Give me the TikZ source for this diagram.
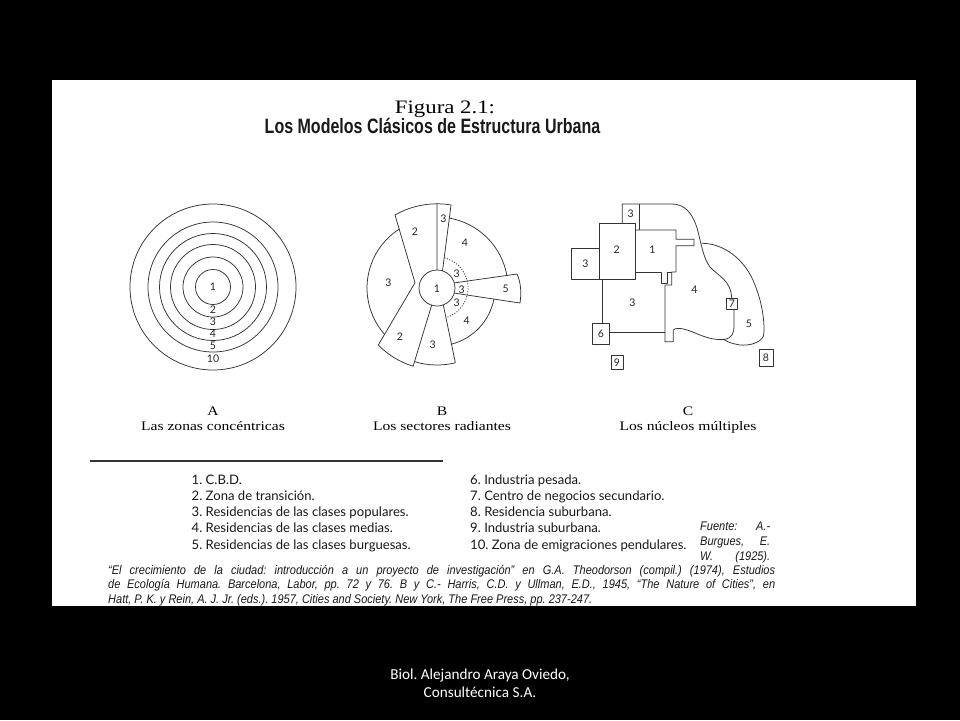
\documentclass[tikz,border=0pt]{standalone}
\usepackage{fontspec}
\setmainfont{Liberation Serif}
\newfontfamily\figfont[FakeStretch=1.2]{Liberation Serif}
\newfontfamily\titlefont[FakeStretch=0.77]{Liberation Sans}
\newfontfamily\legfont{Lato}
\newfontfamily\citefont[FakeStretch=0.88]{Liberation Sans}
\newfontfamily\footfont{Carlito}
\newfontfamily\numfont{Lato}
\frenchspacing
\begin{document}
\begin{tikzpicture}[x=1pt,y=1pt,yscale=-1,line join=round,
  zone/.style={draw=black!80,line width=0.75pt},
  num/.style={font=\numfont\fontsize{10.5}{11}\selectfont,inner sep=0pt,text=black!85},
  captxt/.style={font=\figfont\fontsize{13}{13}\selectfont,inner sep=0pt,anchor=base},
  legtxt/.style={font=\legfont\fontsize{13.1}{14}\selectfont,inner sep=0pt,anchor=base west,text=black!90},
  citetxt/.style={font=\citefont\itshape\fontsize{12.5}{13}\selectfont,inner sep=0pt,anchor=base west,text=black!90},
  foottxt/.style={font=\footfont\fontsize{15.2}{16}\selectfont,inner sep=0pt,anchor=base,text=white}]
\useasboundingbox (0,0) rectangle (960,720);
\fill[black] (0,0) rectangle (960,720);
\fill[white] (52,80) rectangle (916,606);

% ---- titles
\node[inner sep=0pt,anchor=base,font=\figfont\fontsize{19}{19}\selectfont] (fig) at (445,113.3) {Figura 2.1:};
\node[inner sep=0pt,anchor=base,font=\titlefont\bfseries\fontsize{20.8}{21}\selectfont,text=black!90] (title) at (432.5,133.8) {Los Modelos Clásicos de Estructura Urbana};

% ---- A: concentric zones
\foreach \r in {17.5,30,42.5,53.5,65,83} \draw[zone] (213,287) circle[radius=\r];
\node[num] (a1) at (213,287) {1};
\node[num] (a2) at (213,310) {2};
\node[num] (a3) at (213,322) {3};
\node[num] (a4) at (213,334) {4};
\node[num] (a5) at (213,345.5) {5};
\node[num] (a10) at (213,359) {10};

% ---- B: radiating sectors
\begin{scope}[shift={(437,288)},yscale=-1]
  \draw[zone] (122.7:70) arc[start angle=122.7,end angle=221.5,radius=70];
  \draw[zone] (-22,5.3) -- (-42,73) arc[start angle=119.9,end angle=90,radius=84.2] -- (0,18);
  \draw[zone] (0,84.2) arc[start angle=90,end angle=80.4,radius=84.2] -- (5.5,17.2);
  \draw[zone] (80:71) arc[start angle=80,end angle=10,radius=71];
  \draw[zone] (17.3,5.1) -- (80,14) .. controls (84,5) and (84.5,-5) .. (83,-15) -- (17.3,-5.1);
  \draw[zone] (-11:58) arc[start angle=-11,end angle=-75.5,radius=58];
  \draw[zone] (-5.3,-17) -- (253.03:77) arc[start angle=253.03,end angle=283.8,radius=77] -- (6.3,-17);
  \draw[zone] (-22,5.3) -- (224.16:81.8) arc[start angle=224.16,end angle=253.04,radius=81.8] -- (253.03:77);
  \draw[zone] (0,0) circle[radius=18];
  \draw[draw=black!80,line width=0.85pt,dash pattern=on 1pt off 1.6pt] (76:31) arc[start angle=76,end angle=-73,radius=31];
\end{scope}
\node[num] (b1) at (437,288.5) {1};
\node[num] (b2t) at (415,231.7) {2};
\node[num] (b3t) at (443.3,218.3) {3};
\node[num] (b4t) at (465,242.7) {4};
\node[num] (b3l) at (388.3,282.7) {3};
\node[num] (b5) at (505.7,288.3) {5};
\node[num] (b4b) at (466.7,320.7) {4};
\node[num] (b2b) at (400,336.7) {2};
\node[num] (b3b) at (432.7,345) {3};
\node[num] (b3i1) at (456.7,273.3) {3};
\node[num] (b3i2) at (461.7,289.3) {3};
\node[num] (b3i3) at (456.7,302.7) {3};

% ---- C: multiple nuclei
\draw[zone] (622.3,223.3) -- (622.3,204) -- (671.7,204)
  .. controls (684,204) and (692,212) .. (697,228)
  .. controls (701,242) and (703,258) .. (710,267)
  .. controls (718,276) and (731,280) .. (731.7,298.3);
\draw[zone] (639.3,204) -- (639.3,230);
\draw[zone] (599.3,223.3) rectangle (635,279.5);
\draw[zone] (571.7,248.3) rectangle (599.3,279.5);
\draw[zone] (635,230) -- (676,230) -- (676,239.3) -- (694,239.3) -- (694,245.7) -- (676,245.7) -- (676,272) -- (671.7,272) -- (671.7,285) -- (665,285) -- (665,341.7) -- (673.3,341.7) -- (673.3,330)
  .. controls (678,326) and (688,330) .. (700,335)
  .. controls (710,339) and (718,340) .. (724,339.5)
  .. controls (732,338) and (734,334) .. (734,325) -- (734,309);
\draw[zone] (635,272) -- (661.7,272) -- (661.7,283.5) -- (667,283.5) -- (667,272) -- (671.7,272);
\draw[zone] (726,298.3) rectangle (737.7,309);
\draw[zone] (701.7,243.3) .. controls (722,243) and (745,258) .. (755,285)
  .. controls (763,305) and (765,325) .. (763.5,336)
  .. controls (760,344) and (745,347) .. (735,344)
  .. controls (730,343) and (726,341) .. (724,339.5);
\draw[zone] (602.7,279.5) -- (602.7,323.3);
\draw[zone] (592.3,323.3) rectangle (609.3,344);
\draw[zone] (609.3,332.7) -- (665,332.7);
\draw[zone] (759,349) rectangle (773,366);
\draw[zone] (611,355.5) rectangle (623,369);
\node[num] (c3t) at (630.7,214) {3};
\node[num] (c2) at (616.7,250) {2};
\node[num] (c1) at (652.3,250) {1};
\node[num] (c3l) at (585.5,264) {3};
\node[num] (c3) at (632.3,302.7) {3};
\node[num] (c4) at (694.3,290) {4};
\node[num] (c6) at (600.8,333.7) {6};
\node[num] (c7) at (731.8,303.7) {7};
\node[num] (c5) at (749,324) {5};
\node[num] (c8) at (766,357.5) {8};
\node[num] (c9) at (617,362.3) {9};

% ---- captions
\node[captxt] (capA) at (213,415) {A};
\node[captxt] (capAt) at (213,430.5) {Las zonas concéntricas};
\node[captxt] (capB) at (442,415) {B};
\node[captxt] (capBt) at (442,430.5) {Los sectores radiantes};
\node[captxt] (capC) at (688,415) {C};
\node[captxt] (capCt) at (688,430.5) {Los núcleos múltiples};

% ---- rule
\draw[line width=1.1pt,black!80] (90,461) -- (443,461);

% ---- legend
\node[legtxt] (l1) at (191.5,484) {1. C.B.D.};
\node[legtxt] (l2) at (191.5,500.3) {2. Zona de transición.};
\node[legtxt] (l3) at (191.5,516.6) {3. Residencias de las clases populares.};
\node[legtxt] (l4) at (191.5,532.9) {4. Residencias de las clases medias.};
\node[legtxt] (l5) at (191.5,549.2) {5. Residencias de las clases burguesas.};
\node[legtxt] (l6) at (470,484) {6. Industria pesada.};
\node[legtxt] (l7) at (470,500.3) {7. Centro de negocios secundario.};
\node[legtxt] (l8) at (470,516.6) {8. Residencia suburbana.};
\node[legtxt] (l9) at (470,532.9) {9. Industria suburbana.};
\node[legtxt] (l10) at (470,549.2) {10. Zona de emigraciones pendulares.};

\node[citetxt] (f1) at (700,530) {\hbox to 70pt{Fuente:\hfill A.-}};
\node[citetxt] (f2) at (700,545.5) {\hbox to 70pt{Burgues,\hfill E.}};
\node[citetxt] (f3) at (700,560.5) {\hbox to 70pt{W.\hfill (1925).}};

\node[citetxt] (r1) at (108,574) {\hbox to 667pt{“El crecimiento de la ciudad: introducción a un proyecto de investigación” en G.A. Theodorson (compil.) (1974), Estudios}};
\node[citetxt] (r2) at (108,588.5) {\hbox to 667pt{de Ecología Humana. Barcelona, Labor, pp. 72 y 76. B y C.- Harris, C.D. y Ullman, E.D., 1945, “The Nature of Cities”, en}};
\node[citetxt] (r3) at (108,603) {Hatt, P. K. y Rein, A. J. Jr. (eds.). 1957, Cities and Society. New York, The Free Press, pp. 237-247.};

% ---- footer
\node[foottxt] (ft1) at (480,679) {Biol. Alejandro Araya Oviedo,};
\node[foottxt] (ft2) at (480,697.5) {Consultécnica S.A.};
\end{tikzpicture}
\end{document}
